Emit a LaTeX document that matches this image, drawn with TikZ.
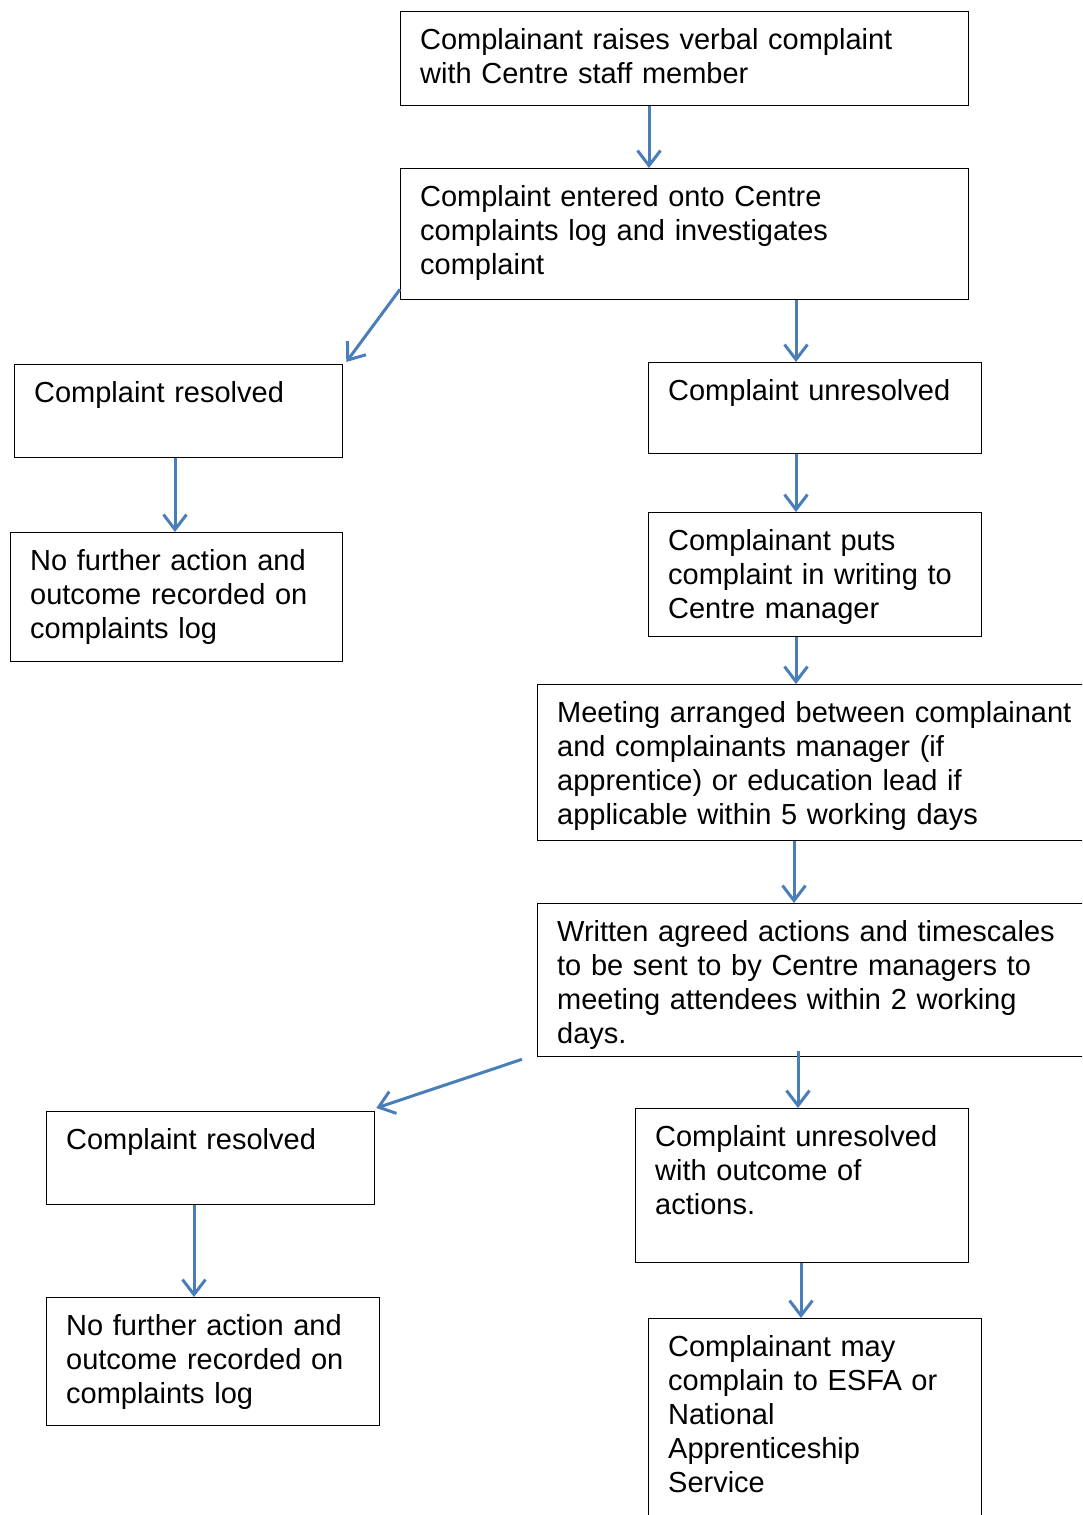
\documentclass[tikz,border=0pt]{standalone}
\usepackage{fontspec}
\setmainfont{Liberation Sans}
\usetikzlibrary{arrows.meta}
\definecolor{flowblue}{RGB}{74,126,187}
\tikzset{
    % one stage of the procedure, text set from the top left corner
    stage/.style={draw=black, line width=1.3pt, anchor=north west, align=left,
        inner xsep=19.5pt, inner ysep=0pt, text height=37.5pt,
        font=\fontsize{29}{34}\selectfont},
    % blue connectors with open heads
    flow/.style={-{Straight Barb[length=15pt, width=23pt]}, flowblue, line width=3pt},
}

\begin{document}
\begin{tikzpicture}[x=1pt, y=-1pt]

    \clip (0,0) rectangle (1082,1515);

    % ---- first stage ----
    \node[stage, text width=529pt, text depth=56.5pt] (raise) at (400,11)
        {Complainant raises verbal complaint\\with Centre staff member};
    \node[stage, text width=529pt, text depth=93.5pt] (entered) at (400,168)
        {Complaint entered onto Centre\\complaints log and investigates\\complaint};

    % ---- resolved at first stage ----
    \node[stage, text width=289pt, text depth=55.5pt] (res1) at (14,364)
        {Complaint resolved};
    \node[stage, text width=293pt, text depth=91.5pt] (nf1) at (10,532)
        {No further action and\\outcome recorded on\\complaints log};

    % ---- unresolved: written complaint ----
    \node[stage, text width=294pt, text depth=53.5pt] (unres1) at (648,362)
        {Complaint unresolved};
    \node[stage, text width=294pt, text depth=86.5pt] (puts) at (648,512)
        {Complainant puts\\complaint in writing to\\Centre manager};
    \node[stage, text width=531pt, text depth=118.5pt] (meeting) at (537,684)
        {Meeting arranged between complainant\\and complainants manager (if\\apprentice) or education lead if\\applicable within 5 working days};
    \node[stage, text width=531pt, text depth=115.5pt] (written) at (537,903)
        {Written agreed actions and timescales\\to be sent to by Centre managers to\\meeting attendees within 2 working\\days.};

    % ---- second outcome ----
    \node[stage, text width=289pt, text depth=55.5pt] (res2) at (46,1111)
        {Complaint resolved};
    \node[stage, text width=294pt, text depth=90.5pt] (nf2) at (46,1297)
        {No further action and\\outcome recorded on\\complaints log};
    \node[stage, text width=294pt, text depth=116.5pt] (unres2) at (635,1108)
        {Complaint unresolved\\with outcome of\\actions.};
    \node[stage, text width=294pt, text depth=230pt] (esfa) at (648,1318)
        {Complainant may\\complain to ESFA or\\National\\Apprenticeship\\Service};

    % straight down connectors
    \foreach \a/\sa/\b/\sb in {raise/249/entered/249, entered/396/unres1/148,
        res1/161/nf1/165, unres1/148/puts/148, puts/148/meeting/259,
        meeting/257/written/257, res2/148/nf2/148, unres2/166/esfa/153}{
        \draw[flow] ([xshift=\sa pt]\a.south west) -- ([xshift=\sb pt]\b.north west);
    }
    \draw[flow] ([shift={(261pt,6pt)}]written.south west) -- ([xshift=163pt]unres2.north west);

    % slanted connectors to the resolved boxes
    \draw[flow] ([yshift=11pt]entered.south west) -- ([shift={(3pt,2pt)}]res1.north east);
    \draw[flow] ([shift={(-15pt,-2pt)}]written.south west) -- ([shift={(1pt,3pt)}]res2.north east);

\end{tikzpicture}
\end{document}
